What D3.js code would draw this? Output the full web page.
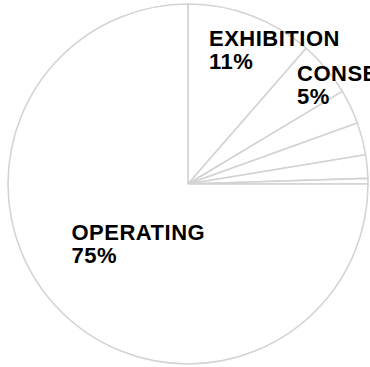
<!DOCTYPE html>
<html>
<head>
<meta charset="utf-8">
<script src="https://cdn.jsdelivr.net/npm/d3@7"></script>
<style>
  html, body { margin: 0; padding: 0; background: #fff; }
  svg { display: block; }
  text { font-family: "Liberation Sans", Arial, Helvetica, sans-serif; font-weight: bold; fill: #000; }
</style>
</head>
<body>
<svg id="chart" width="370" height="367"></svg>
<script>
const categories = ["EXHIBITION", "CONSERVATION", "EDUCATION", "ACQUISITIONS", "RESEARCH", "OTHER", "OPERATING"];
const values = [11.4, 5.0, 3.1, 2.9, 2.1, 0.5, 75.0];
const shownLabels = ["EXHIBITION", "CONSERVATION", "OPERATING"];

const svg = d3.select("#chart");
const cx = 188, cy = 184, radius = 180;

const pie = d3.pie().sort(null).value(d => d.value).startAngle(0).endAngle(2 * Math.PI);
const arc = d3.arc().innerRadius(0).outerRadius(radius);
const data = categories.map((c, i) => ({ name: c, value: values[i] }));
const arcs = pie(data);

const g = svg.append("g").attr("transform", `translate(${cx},${cy})`);
g.selectAll("path")
  .data(arcs)
  .join("path")
  .attr("d", arc)
  .attr("fill", "#fff")
  .attr("stroke", "#d3d3d3")
  .attr("stroke-width", 1.6)
  .attr("stroke-linejoin", "round");

// label placement (offsets from the pie centre)
const labelOffsets = {
  "EXHIBITION": [21, -138],
  "CONSERVATION": [109, -103.5],
  "OPERATING": [-116.5, 56]
};
const labelG = svg.append("g");
arcs.filter(a => shownLabels.includes(a.data.name)).forEach(a => {
  const [ox, oy] = labelOffsets[a.data.name];
  const t = labelG.append("text")
    .attr("x", cx + ox).attr("y", cy + oy)
    .attr("font-size", 22)
    .attr("letter-spacing", 0.5);
  t.append("tspan").attr("x", cx + ox).text(a.data.name);
  t.append("tspan").attr("x", cx + ox).attr("dy", 23).text(Math.round(a.data.value) + "%");
});
</script>
</body>
</html>
